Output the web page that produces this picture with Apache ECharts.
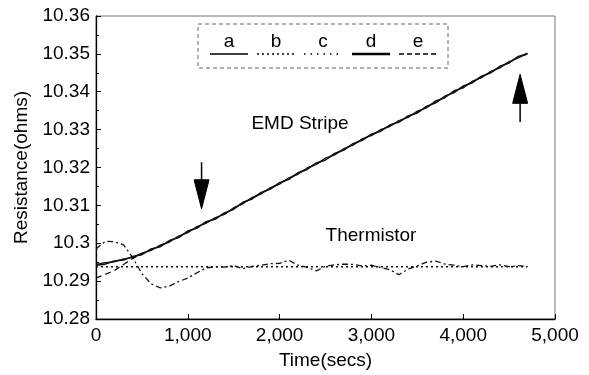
<!DOCTYPE html>
<html>
<head>
<meta charset="utf-8">
<script src="https://cdn.jsdelivr.net/npm/echarts@6/dist/echarts.min.js"></script>
<style>html,body{margin:0;padding:0;background:#fff;}#c{width:589px;height:375px;}</style>
</head>
<body>
<div id="c"></div>
<script>
// Time axis (secs)
var times = [0,100,200,300,400,500,600,700,800,900,1000,1100,1200,1300,1400,1500,1600,1700,1800,1900,
  2000,2100,2200,2300,2400,2500,2600,2700,2800,2900,3000,3100,3200,3300,3400,3500,3600,3700,3800,3900,
  4000,4100,4200,4300,4400,4500,4600,4700];
var legendNames = ['a','b','c','d','e'];
// a: EMD stripe (solid)
var seriesA = [10.2942,10.2945,10.2953,10.2956,10.2965,10.2970,10.2985,10.2991,10.3007,10.3015,10.3032,10.3040,
  10.3057,10.3064,10.3080,10.3090,10.3108,10.3117,10.3134,10.3143,10.3160,10.3169,10.3186,10.3195,10.3212,10.3220,
  10.3237,10.3246,10.3263,10.3272,10.3288,10.3296,10.3312,10.3320,10.3336,10.3344,10.3361,10.3371,10.3388,10.3398,
  10.3415,10.3424,10.3441,10.3450,10.3467,10.3476,10.3493,10.3500];
// b: flat reference (dotted)
var seriesB = [10.2938,10.2938,10.2938,10.2938,10.2938,10.2938,10.2938,10.2938,10.2938,10.2938,10.2938,10.2938,
  10.2938,10.2938,10.2938,10.2938,10.2938,10.2938,10.2938,10.2938,10.2938,10.2938,10.2938,10.2938,10.2938,10.2938,
  10.2938,10.2938,10.2938,10.2938,10.2938,10.2938,10.2938,10.2938,10.2938,10.2938,10.2938,10.2938,10.2938,10.2938,
  10.2938,10.2938,10.2938,10.2938,10.2938,10.2938,10.2938,10.2938];
// c: thermistor (dash-dot)
var seriesC = [10.2985,10.3005,10.3004,10.2996,10.2962,10.2920,10.2893,10.2882,10.2887,10.2899,10.2908,10.2922,
  10.2935,10.2938,10.2937,10.2941,10.2933,10.2939,10.2942,10.2946,10.2947,10.2955,10.2942,10.2936,10.2927,10.2939,
  10.2943,10.2945,10.2944,10.2940,10.2942,10.2936,10.2930,10.2917,10.2932,10.2940,10.2950,10.2953,10.2945,10.2942,
  10.2938,10.2943,10.2941,10.2939,10.2943,10.2938,10.2941,10.2939];
// d: second EMD trace (solid, overlapping)
var seriesD = [10.2944,10.2949,10.2951,10.2959,10.2962,10.2974,10.2981,10.2995,10.3003,10.3019,10.3028,10.3044,
  10.3053,10.3068,10.3076,10.3094,10.3104,10.3121,10.3130,10.3147,10.3156,10.3173,10.3182,10.3199,10.3208,10.3225,
  10.3233,10.3250,10.3259,10.3276,10.3284,10.3300,10.3308,10.3324,10.3332,10.3349,10.3357,10.3376,10.3384,10.3403,
  10.3410,10.3428,10.3437,10.3454,10.3463,10.3480,10.3489,10.3502];
// e: dashed trace rising to join EMD
var seriesE = [10.2908,10.2918,10.2928,10.2944,10.2960,10.2972,10.2983,10.2994,10.3005,10.3017,10.3030,10.3042,
  10.3054,10.3066,10.3078,10.3092,10.3106,10.3119,10.3132,10.3145,10.3158,10.3171,10.3184,10.3197,10.3210,10.3222,
  10.3235,10.3248,10.3261,10.3274,10.3286,10.3298,10.3310,10.3322,10.3334,10.3346,10.3359,10.3373,10.3386,10.3400,
  10.3413,10.3426,10.3439,10.3452,10.3465,10.3478,10.3491,10.3500];
var xTicks = [0,1000,2000,3000,4000,5000];
var yTicks = [10.28,10.29,10.30,10.31,10.32,10.33,10.34,10.35,10.36];
// arrow annotations: [time, tail value, tip value]
var arrowDown = [1150, 10.3214, 10.3091];
var arrowUp = [4620, 10.3320, 10.3446];

var FONT = '"Liberation Sans", Arial, Helvetica, sans-serif';
function pairs(vals){ return times.map(function(t,i){ return [t, vals[i]]; }); }

var chart = echarts.init(document.getElementById('c'), null, {renderer:'canvas'});
var series = [
  {name:'a', data:pairs(seriesA), lineStyle:{width:1.6, type:'solid'}},
  {name:'b', data:pairs(seriesB), lineStyle:{width:1.3, type:[2,3]}},
  {name:'c', data:pairs(seriesC), lineStyle:{width:1.3, type:[6,3,2,3]}},
  {name:'d', data:pairs(seriesD), lineStyle:{width:1.2, type:'solid'}},
  {name:'e', data:pairs(seriesE), lineStyle:{width:1.3, type:[6,4]}}
].map(function(s){
  s.type='line'; s.showSymbol=false; s.symbol='none'; s.animation=false;
  s.lineStyle.color='#111'; s.z=3;
  return s;
});

var option = {
  animation:false,
  backgroundColor:'#fff',
  grid:{left:96, right:34, top:16, bottom:54, show:true, borderColor:'#777', borderWidth:1},
  xAxis:{
    type:'value', min:xTicks[0], max:xTicks[xTicks.length-1], interval:1000,
    name:'Time(secs)', nameLocation:'middle', nameGap:32,
    nameTextStyle:{fontFamily:FONT, fontSize:19, color:'#000'},
    axisLine:{show:true, onZero:false, lineStyle:{color:'#000', width:1.3}},
    axisTick:{show:true, inside:true, length:5, lineStyle:{color:'#000'}},
    minorTick:{show:false},
    splitLine:{show:false},
    axisLabel:{fontFamily:FONT, fontSize:19, color:'#000', margin:7,
      formatter:function(v){ return v.toLocaleString('en-US'); }}
  },
  yAxis:{
    type:'value', min:yTicks[0], max:yTicks[yTicks.length-1], interval:0.01,
    name:'Resistance(ohms)', nameLocation:'middle', nameGap:64,
    nameTextStyle:{fontFamily:FONT, fontSize:19, color:'#000'},
    axisLine:{show:true, lineStyle:{color:'#000', width:1.3}},
    axisTick:{show:true, inside:true, length:5, lineStyle:{color:'#000'}},
    minorTick:{show:true, splitNumber:2, length:3, lineStyle:{color:'#000'}},
    splitLine:{show:false},
    axisLabel:{fontFamily:FONT, fontSize:19, color:'#000', margin:6,
      formatter:function(v){ return String(parseFloat((+v).toFixed(2))); }}
  },
  series:series
};
chart.setOption(option);

// legend drawn as a boxed key with sample lines beneath the letters
var legendX = [229, 276, 323, 371, 418];
var legendDash = [null, [2,3], [1.5,5], null, [5,3]];
var legendWidth = [1.5, 1.5, 1.5, 2.6, 1.5];
var g = [];
g.push({type:'rect', shape:{x:198, y:24, width:250, height:44},
  style:{fill:'#fff', stroke:'#666', lineWidth:1, lineDash:[4,3]}, z:10});
legendNames.forEach(function(n, i){
  g.push({type:'text', x:legendX[i], y:42, z:11,
    style:{text:n, font:'19px ' + FONT, fill:'#000', align:'center', verticalAlign:'middle',
      textAlign:'center', textVerticalAlign:'middle'}});
  g.push({type:'line', z:11, shape:{x1:legendX[i]-19, y1:54, x2:legendX[i]+19, y2:54},
    style:{stroke:'#000', lineWidth:legendWidth[i], lineDash:legendDash[i]}});
});
g.push({type:'text', x:300, y:124, z:11,
  style:{text:'EMD Stripe', font:'19px ' + FONT, fill:'#000', align:'center', verticalAlign:'middle',
    textAlign:'center', textVerticalAlign:'middle'}});
g.push({type:'text', x:371, y:236, z:11,
  style:{text:'Thermistor', font:'19px ' + FONT, fill:'#000', align:'center', verticalAlign:'middle',
    textAlign:'center', textVerticalAlign:'middle'}});

function arrow(a){
  var tail = chart.convertToPixel({gridIndex:0}, [a[0], a[1]]);
  var tip = chart.convertToPixel({gridIndex:0}, [a[0], a[2]]);
  var dir = tip[1] > tail[1] ? 1 : -1;
  var headLen = 29, half = 7.5;
  var base = tip[1] - dir*headLen;
  g.push({type:'line', z:12, shape:{x1:tail[0], y1:tail[1], x2:tail[0], y2:base},
    style:{stroke:'#000', lineWidth:1.5}});
  g.push({type:'polygon', z:12, shape:{points:[[tip[0], tip[1]], [tip[0]-half, base], [tip[0]+half, base]]},
    style:{fill:'#000', stroke:'#000'}});
}
arrow(arrowDown);
arrow(arrowUp);
chart.setOption({graphic:g});
</script>
</body>
</html>
